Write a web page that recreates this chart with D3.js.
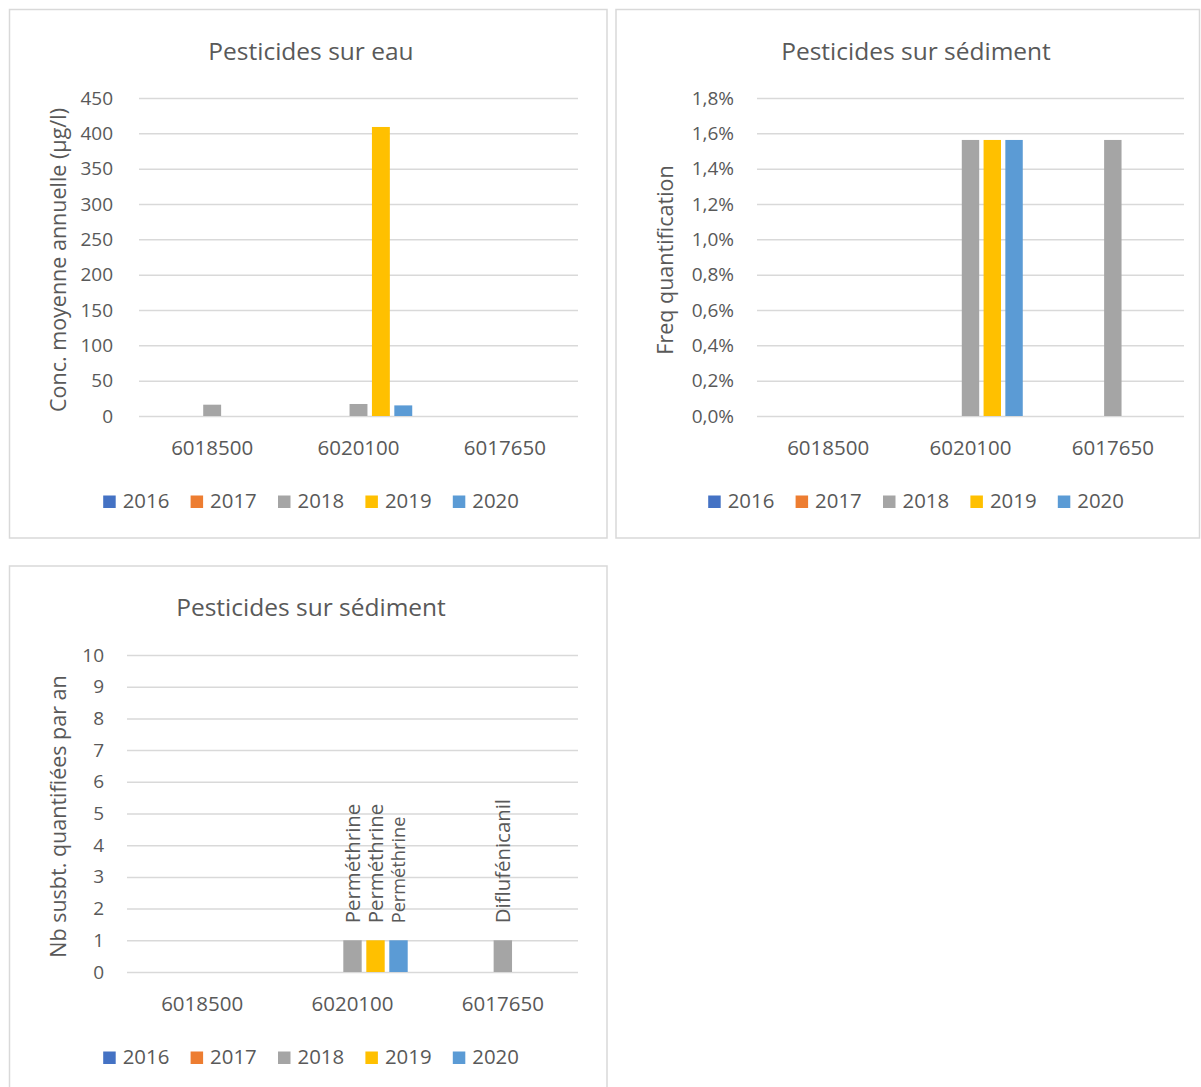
<!DOCTYPE html>
<html lang="fr">
<head>
<meta charset="utf-8">
<title>Pesticides</title>
<script src="https://cdn.jsdelivr.net/npm/d3@7"></script>
<style>
  html, body { margin: 0; padding: 0; background: #ffffff; }
  svg { display: block; font-family: "Open Sans", "Noto Sans", sans-serif; }
  text { fill: #595959; }
</style>
</head>
<body>
<svg id="root" width="1201" height="1087"></svg>
<script>
// Stations and sampling years shared by the three panels
const categories = ["6018500", "6020100", "6017650"];
const years = ["2016", "2017", "2018", "2019", "2020"];
const yearColors = ["#4472C4", "#ED7D31", "#A5A5A5", "#FFC000", "#5B9BD5"];

// Water: mean annual concentration (µg/l), one row per year, one column per station
const eauValues = [
  [null, null, null],
  [null, null, null],
  [16, 17, null],
  [null, 409, null],
  [null, 15, null]
];
const eauTicks = [0, 50, 100, 150, 200, 250, 300, 350, 400, 450];

// Sediment: quantification frequency
const freqValues = [
  [null, null, null],
  [null, null, null],
  [null, 0.015625, 0.015625],
  [null, 0.015625, null],
  [null, 0.015625, null]
];
const freqTicks = [0, 0.002, 0.004, 0.006, 0.008, 0.010, 0.012, 0.014, 0.016, 0.018];

// Sediment: number of quantified substances per year, with the substance names
const nbValues = [
  [null, null, null],
  [null, null, null],
  [null, 1, 1],
  [null, 1, null],
  [null, 1, null]
];
const nbLabels = [
  [null, null, null],
  [null, null, null],
  [null, "Perméthrine", "Diflufénicanil"],
  [null, "Perméthrine", null],
  [null, "Perméthrine", null]
];
const nbTicks = [0, 1, 2, 3, 4, 5, 6, 7, 8, 9, 10];

const frLocale = d3.formatLocale({
  decimal: ",", thousands: " ", grouping: [3], currency: ["", " €"], percent: "%"
});
const pct = frLocale.format(".1%");

const svg = d3.select("#root");

function drawChart(cfg) {
  const g = svg.append("g");

  // Chart area frame
  g.append("rect")
    .attr("x", cfg.panel.x).attr("y", cfg.panel.y)
    .attr("width", cfg.panel.w).attr("height", cfg.panel.h)
    .attr("fill", "#ffffff")
    .attr("stroke", "#D9D9D9").attr("stroke-width", 1.5);

  const x0 = d3.scaleBand()
    .domain(categories)
    .range([cfg.plot.left, cfg.plot.right])
    .paddingInner(0.235).paddingOuter(0.1175);
  const x1 = d3.scaleBand()
    .domain(years)
    .range([0, x0.bandwidth()])
    .paddingInner(0.2).paddingOuter(0.1);
  const y = d3.scaleLinear()
    .domain(cfg.domain)
    .range([cfg.plot.bottom, cfg.plot.top]);
  const color = d3.scaleOrdinal().domain(years).range(yearColors);

  // Horizontal gridlines + value labels
  const yAxis = d3.axisLeft(y)
    .tickValues(cfg.ticks)
    .tickFormat(cfg.format)
    .tickSize(-(cfg.plot.right - cfg.plot.left))
    .tickPadding(cfg.tickGap);
  const ya = g.append("g")
    .attr("transform", `translate(${cfg.plot.left},0)`)
    .call(yAxis);
  ya.select(".domain").remove();
  ya.selectAll(".tick line").attr("stroke", "#D9D9D9").attr("stroke-width", 1.5);
  ya.selectAll(".tick text")
    .attr("font-size", 19).attr("fill", "#595959")
    .attr("font-family", "Open Sans, sans-serif");

  // Station labels
  const xAxis = d3.axisBottom(x0).tickSize(0).tickPadding(0);
  const xa = g.append("g")
    .attr("transform", `translate(0,${cfg.plot.bottom})`)
    .call(xAxis);
  xa.select(".domain").remove();
  xa.selectAll(".tick text")
    .attr("font-size", 20.5).attr("fill", "#595959")
    .attr("font-family", "Open Sans, sans-serif")
    .attr("dy", null)
    .attr("y", 39);

  // Bars
  const cells = [];
  cfg.values.forEach((row, si) => {
    row.forEach((v, ci) => {
      if (v !== null) cells.push({ year: years[si], cat: categories[ci], value: v, si, ci });
    });
  });
  g.append("g").selectAll("rect")
    .data(cells)
    .join("rect")
    .attr("x", d => x0(d.cat) + x1(d.year))
    .attr("y", d => y(d.value))
    .attr("width", x1.bandwidth())
    .attr("height", d => y(0) - y(d.value))
    .attr("fill", d => color(d.year));

  // Substance names above bars
  if (cfg.labels) {
    const lab = cells.filter(d => cfg.labels[d.si][d.ci]);
    g.append("g").selectAll("text")
      .data(lab)
      .join("text")
      .attr("transform", d => `translate(${x0(d.cat) + x1(d.year) + x1.bandwidth() / 2},${y(d.value) - 17}) rotate(-90)`)
      .attr("dy", "0.36em")
      .attr("text-anchor", "start")
      .attr("font-size", d => d.year === "2020" ? 18.2 : 20.4)
      .text(d => cfg.labels[d.si][d.ci]);
  }

  // Title
  g.append("text")
    .attr("x", cfg.center).attr("y", cfg.titleY)
    .attr("text-anchor", "middle")
    .attr("font-size", 24.5)
    .text(cfg.title);

  // Value axis title
  g.append("text")
    .attr("transform", `translate(${cfg.yTitleX},${(cfg.plot.top + cfg.plot.bottom) / 2 + 3}) rotate(-90)`)
    .attr("text-anchor", "middle")
    .attr("font-size", 21.5)
    .text(cfg.yTitle);

  // Legend
  const step = 87.4;
  const total = step * (years.length - 1) + 19.5 + 46.5;
  const lx = cfg.center - total / 2;
  const ly = cfg.plot.bottom + 92;
  const items = g.append("g").selectAll("g")
    .data(years)
    .join("g")
    .attr("transform", (d, i) => `translate(${lx + i * step},${ly})`);
  items.append("rect")
    .attr("x", 0).attr("y", -12.5)
    .attr("width", 12.5).attr("height", 12.5)
    .attr("fill", d => color(d));
  items.append("text")
    .attr("x", 19.5).attr("y", 0)
    .attr("font-size", 20.4)
    .text(d => d);
}

drawChart({
  panel: { x: 9.5, y: 9.5, w: 597.5, h: 528.5 },
  plot: { left: 139, right: 578, top: 98, bottom: 416 },
  domain: [0, 450], ticks: eauTicks, format: d => d, tickGap: 26,
  values: eauValues,
  title: "Pesticides sur eau", titleY: 60, center: 311,
  yTitle: "Conc. moyenne annuelle (µg/l)", yTitleX: 66
});

drawChart({
  panel: { x: 616, y: 9.5, w: 583.5, h: 528.5 },
  plot: { left: 757, right: 1184, top: 98, bottom: 416 },
  domain: [0, 0.018], ticks: freqTicks, format: pct, tickGap: 23,
  values: freqValues,
  title: "Pesticides sur sédiment", titleY: 60, center: 916,
  yTitle: "Freq quantification", yTitleX: 673
});

drawChart({
  panel: { x: 9.5, y: 566, w: 597.5, h: 540 },
  plot: { left: 127, right: 578, top: 655, bottom: 972 },
  domain: [0, 10], ticks: nbTicks, format: d => d, tickGap: 23,
  values: nbValues, labels: nbLabels,
  title: "Pesticides sur sédiment", titleY: 616, center: 311,
  yTitle: "Nb susbt. quantifiées par an", yTitleX: 66
});
</script>
</body>
</html>
